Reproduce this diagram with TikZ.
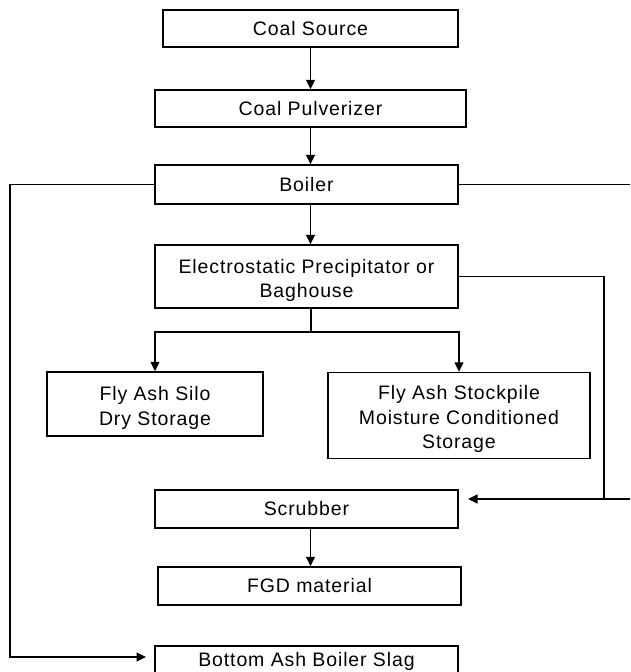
\documentclass[tikz,border=0pt]{standalone}
\usepackage{fontspec}
\setmainfont{Liberation Sans}[LetterSpace=4.5]
\usetikzlibrary{arrows.meta,calc,positioning}
% drops a stacked label a little inside its box
\newcommand{\boxstrut}{\rule{0pt}{22pt}}

\begin{document}
\begin{tikzpicture}[x=1pt,y=-1pt,>={Triangle[length=9.5pt,width=9pt]},line join=miter,
  box/.style={draw,line width=1.4pt,inner sep=0pt,align=center,
    font=\fontsize{19.5}{24.5}\selectfont},
  flow/.style={line width=1.4pt}]
  % ---- page ----------------------------------------------------------------
  \clip (0,0) rectangle (630,672);
  \fill[white] (0,0) rectangle (630,672);

  % ---- main column ---------------------------------------------------------
  \node[box,minimum width=295,minimum height=37] (coal)   at (310.5,28.5) {Coal Source};
  \node[box,minimum width=311,minimum height=37] (pulv)   at (310.5,108.5) {Coal Pulverizer};
  \node[box,minimum width=303,minimum height=39] (boiler) at (306.5,184.5) {Boiler};
  \node[box,minimum width=303,minimum height=63] (esp)    at (306.5,276.5)
       {\boxstrut Electrostatic Precipitator or\\ Baghouse};

  % ---- fly ash storage -----------------------------------------------------
  \node[box,minimum width=216,minimum height=64] (silo) at (155,404)
       {\boxstrut Fly Ash Silo\\ Dry Storage};
  \node[box,minimum width=262,minimum height=86] (pile) at (459,415.5)
       {\boxstrut Fly Ash Stockpile\\ Moisture Conditioned\\ Storage};

  % ---- flue gas and slag ---------------------------------------------------
  \node[box,minimum width=303,minimum height=38] (scrub)  at (306.5,509) {Scrubber};
  \node[box,minimum width=303,minimum height=38] (fgd)    at (309.5,586) {FGD material};
  \node[box,minimum width=303,minimum height=30] (bottom) at (306.5,661) {Bottom Ash Boiler Slag};

  % ---- turning points ------------------------------------------------------
  \coordinate (split)   at (311,332);   % fly ash branch
  \coordinate (rTop)    at (630,184.5); % boiler line leaves the page
  \coordinate (join)    at (604,499);   % precipitator line meets return
  \coordinate (rLow)    at (630,499);
  \coordinate (scrubIn) at (468,499);
  \coordinate (lDown)   at (10,657);
  \coordinate (slagIn)  at (146,657);

  % ---- connectors ----------------------------------------------------------
  \draw[flow,->] (coal) -- (pulv);
  \draw[flow,->] (pulv.south) -- (pulv.south |- boiler.north);
  \draw[flow,->] (boiler.south -| pulv.south) -- (esp.north -| pulv.south);
  \draw[flow] (esp.south -| split) -- (split);
  \draw[flow,->] (split) -| (silo.north);
  \draw[flow,->] (split) -| (pile.north);
  \draw[flow,->] (scrub.south -| pulv.south) -- (fgd.north -| pulv.south);

  \draw[flow] (boiler.east) -- (rTop);
  \draw[flow] (esp.east) -| (join);
  \draw[flow,->] (rLow) -- (scrubIn);
  \draw[flow,->] (boiler.west) -- (boiler.west -| lDown) -- (lDown) -- (slagIn);
\end{tikzpicture}
\end{document}
